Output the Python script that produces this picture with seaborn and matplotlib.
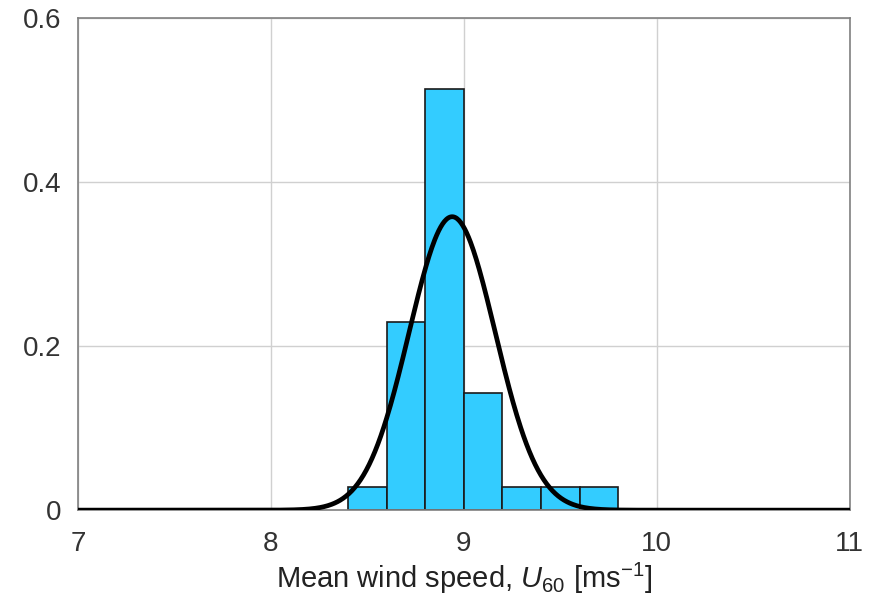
import numpy as np
import pandas as pd
import matplotlib
matplotlib.use("Agg")
import matplotlib.pyplot as plt
import seaborn as sns

# Data
bin_edges = [8.4, 8.6, 8.8, 9.0, 9.2, 9.4, 9.6, 9.8]
bin_heights = [0.028, 0.229, 0.514, 0.143, 0.028, 0.028, 0.028]
fit_mean = 8.94
fit_std = 0.223
bin_width = 0.2
x_ticks = [7, 8, 9, 10, 11]
y_ticks = [0, 0.2, 0.4, 0.6]
y_tick_labels = ["0", "0.2", "0.4", "0.6"]

sns.set_style("white")
plt.rcParams["font.family"] = ["Liberation Sans", "DejaVu Sans"]
plt.rcParams["mathtext.fontset"] = "custom"
plt.rcParams["mathtext.rm"] = "Liberation Sans"
plt.rcParams["mathtext.it"] = "Liberation Sans:italic"

fig = plt.figure(figsize=(8.75, 6.03), dpi=100)
ax = fig.add_axes([0.089, 0.154, 0.882, 0.816])

centers = [(a + b) / 2 for a, b in zip(bin_edges[:-1], bin_edges[1:])]
df = pd.DataFrame({"x": centers, "w": bin_heights})
sns.histplot(data=df, x="x", weights="w", bins=bin_edges, ax=ax,
             color="#33CCFF", alpha=1, edgecolor="#1a1a1a", linewidth=1.2, zorder=2)

xs = np.linspace(7, 11, 801)
ys = bin_width * np.exp(-0.5 * ((xs - fit_mean) / fit_std) ** 2) / (fit_std * np.sqrt(2 * np.pi))
sns.lineplot(x=xs, y=ys, ax=ax, color="black", linewidth=3.4, zorder=3)

ax.set_xlim(7, 11)
ax.set_ylim(0, 0.6)
ax.set_xticks(x_ticks)
ax.set_yticks(y_ticks)
ax.set_yticklabels(y_tick_labels)
ax.grid(True, color="#d0d0d0", linewidth=1.0, zorder=0)
ax.set_axisbelow(True)
for s in ax.spines.values():
    s.set_color("#808080")
    s.set_linewidth(1.2)
ax.tick_params(axis="x", labelsize=20, colors="#333333", length=0, pad=15)
ax.tick_params(axis="y", labelsize=20, labelcolor="#333333", color="#999999",
               direction="in", length=5, width=1, pad=12)
ax.set_ylabel("")
ax.set_xlabel("Mean wind speed, $U_{60}$ [ms$^{\\mathregular{-1}}$]", fontsize=21, color="#222222", labelpad=3)

fig.savefig("out.png", dpi=100)
